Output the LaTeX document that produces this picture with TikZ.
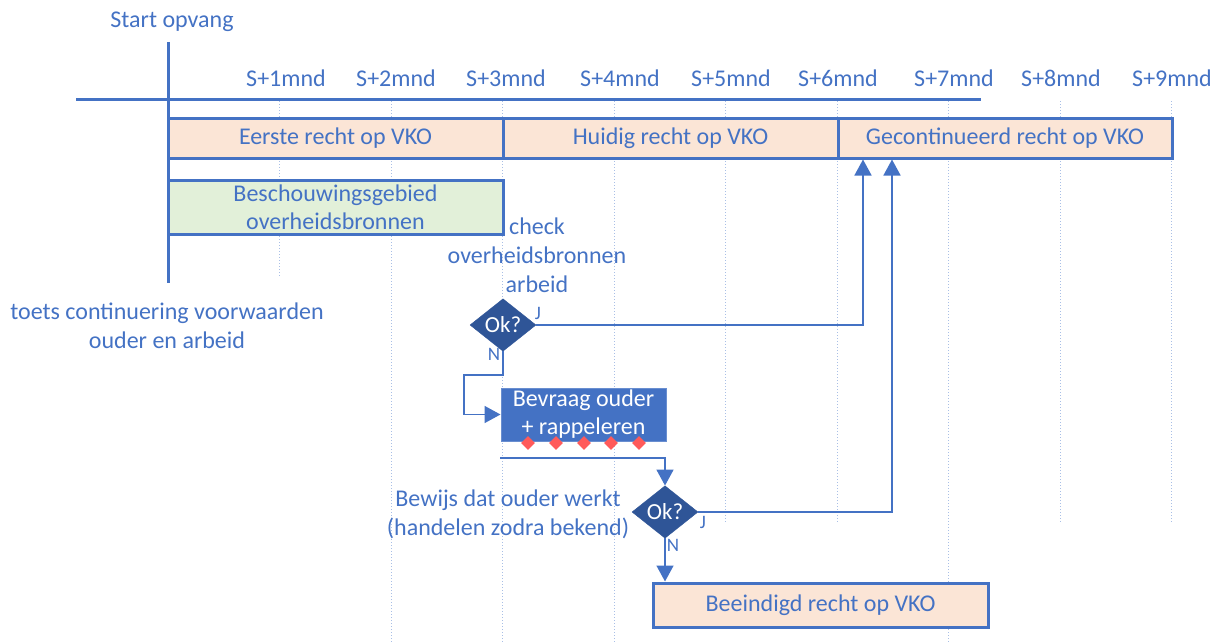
\documentclass[tikz,border=0pt]{standalone}
\usepackage{fontspec}
\setmainfont{Carlito}
\usetikzlibrary{arrows.meta,shapes.geometric}
\definecolor{mblue}{HTML}{4472C4}
\definecolor{dblue}{HTML}{2F5597}
\definecolor{peach}{HTML}{FBE5D6}
\definecolor{lgreen}{HTML}{E2F0D9}
\definecolor{gridc}{HTML}{A9BFE6}
\definecolor{rdot}{HTML}{FF5A5A}
\begin{document}
\begin{tikzpicture}[x=1pt,y=-1pt,
  font=\fontsize{24}{29}\selectfont,
  lbl/.style={text=mblue, inner sep=0pt, align=center},
  small/.style={text=mblue, inner sep=0pt, font=\fontsize{19}{22}\selectfont},
  bar/.style={draw=mblue, line width=3pt, fill=peach, text=mblue, minimum height=40pt, inner sep=0pt},
  greenbox/.style={draw=mblue, line width=3pt, fill=lgreen, text=mblue, inner sep=0pt, align=center, font=\fontsize{24}{28}\selectfont},
  okd/.style={diamond, fill=dblue, draw=dblue, text=white, minimum width=66pt, minimum height=38pt, inner sep=0pt, font=\fontsize{23}{26}\selectfont},
  actbox/.style={fill=mblue, draw=mblue!80!white, line width=1pt, text=white, inner sep=0pt, align=center, font=\fontsize{24}{28}\selectfont},
  reddot/.style={diamond, fill=rdot, minimum width=14pt, minimum height=14pt, inner sep=0pt},
  conn/.style={draw=mblue, line width=1.6pt, -{Triangle[length=16pt,width=17pt]}},
  gridline/.style={draw=gridc, line width=0.8pt, dash pattern=on 1pt off 2pt},
  axis/.style={draw=mblue, line width=3pt}
]
\useasboundingbox (0,0) rectangle (1218,642);

% grid lines
\foreach \k/\e in {1/277, 2/642, 3/642, 4/642, 5/523, 6/523, 7/642, 8/523, 9/523}{
  \draw[gridline] ({168+111.5*\k},101) -- ({168+111.5*\k},\e);
}

% axes
\draw[axis] (76,99) -- (981,99);
\draw[axis] (168,42) -- (168,283);

\node[lbl] (start) at (172,22) {Start opvang};
\foreach \k/\xx in {1/286,2/396,3/506,4/620,5/731,6/838,7/954,8/1061,9/1172}{
  \node[lbl] (s\k) at (\xx,78) {S+\k mnd};
}

% top bars
\node[bar, minimum width=335pt] (eerste) at (335.5,138) {Eerste recht op VKO};
\node[bar, minimum width=335pt] (huidig) at (670.5,138) {Huidig recht op VKO};
\node[bar, minimum width=334pt] (gecont) at (1005,138) {Gecontinueerd recht op VKO};

\node[greenbox, minimum width=335pt, minimum height=54pt] (beschouw) at (335.5,207) {Beschouwingsgebied\\overheidsbronnen};

\node[lbl] (check) at (537,255) {check\\overheidsbronnen\\arbeid};
\node[lbl] (toets) at (167,325.5) {toets continuering voorwaarden\\ouder en arbeid};

% decision 1
\node[okd] (ok1) at (503,325) {Ok?};
\node[small] (j1) at (538,313) {J};
\node[small] (n1) at (494,354) {N};

% action box
\node[actbox, minimum width=165pt, minimum height=53pt] (bevraag) at (583.5,414.5) {Bevraag ouder\\+ rappeleren};
\foreach \i/\xx in {1/528,2/556,3/584,4/611,5/639}{
  \node[reddot] (r\i) at (\xx,443) {};
}

% decision 2
\node[okd] (ok2) at (665,512) {Ok?};
\node[small] (j2) at (703,522) {J};
\node[small] (n2) at (673,545) {N};
\node[lbl] (bewijs) at (508,514.5) {Bewijs dat ouder werkt\\(handelen zodra bekend)};

\node[bar, minimum width=335pt, minimum height=44pt] (beeindigd) at (820.5,605) {Beeindigd recht op VKO};

% connectors
\draw[conn] (ok1.east) -| ([xshift=-142pt]gecont.south);
\draw[conn] (ok2.east) -| ([xshift=-113pt]gecont.south);
\draw[conn] (ok1.south) |- (464,375) |- (bevraag.west);
\coordinate (lstart) at (500,458);
\draw[conn] (lstart) -| (ok2.north);
\draw[conn] (ok2.south) -- (ok2.south |- beeindigd.north);
\end{tikzpicture}
\end{document}
